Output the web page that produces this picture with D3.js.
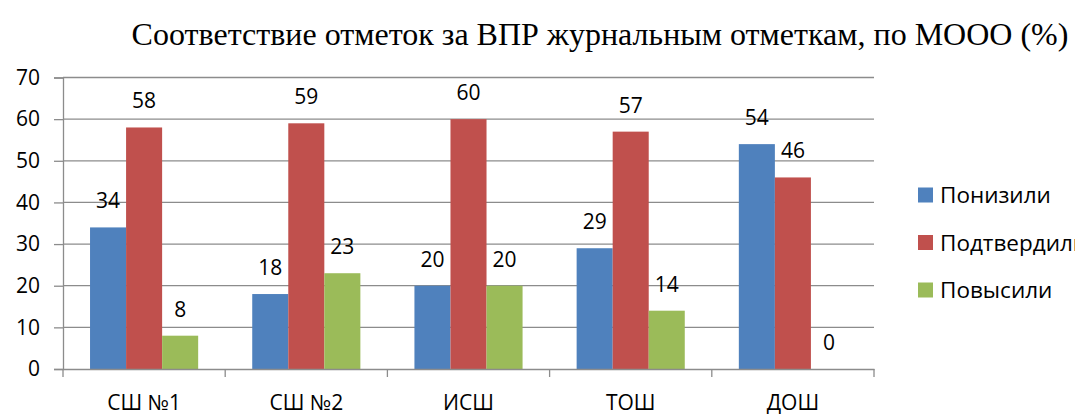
<!DOCTYPE html>
<html>
<head>
    <meta charset="utf-8">
    <title>Соответствие отметок</title>
    <script src="https://d3js.org/d3.v7.min.js"></script>
    <style>
        body { margin: 0; background: #fff; overflow: hidden; }
    </style>
</head>
<body>
<script>
// Chart data
const categories = ['СШ №1', 'СШ №2', 'ИСШ', 'ТОШ', 'ДОШ'];
const seriesNames = ['Понизили', 'Подтвердили', 'Повысили'];
const lowered = [34, 18, 20, 29, 54];
const confirmed = [58, 59, 60, 57, 46];
const raised = [8, 23, 20, 14, 0];
const yTicks = [0, 10, 20, 30, 40, 50, 60, 70];
const colors = ['#4F81BD', '#C0504D', '#9BBB59'];
const title = 'Соответствие отметок за ВПР журнальным отметкам, по МООО (%)';

const values = [lowered, confirmed, raised];

const W = 1075, H = 415;
const plot = { left: 63, right: 874, top: 77.5, bottom: 369 };
const sans = "'Open Sans', sans-serif";

const svg = d3.select('body')
    .append('svg')
    .attr('width', W)
    .attr('height', H)
    .style('font-family', sans);

const x = d3.scaleBand()
    .domain(categories)
    .range([plot.left, plot.right])
    .padding(0);

const xInner = d3.scaleBand()
    .domain(seriesNames)
    .range([x.bandwidth() / 6, x.bandwidth() * 5 / 6]);

const y = d3.scaleLinear()
    .domain([0, 70])
    .range([plot.bottom, plot.top]);

// Gridlines
svg.append('g')
    .selectAll('line')
    .data(yTicks.filter(d => d > 0))
    .enter()
    .append('line')
    .attr('x1', plot.left)
    .attr('x2', plot.right)
    .attr('y1', d => y(d))
    .attr('y2', d => y(d))
    .attr('stroke', '#8c8c8c')
    .attr('stroke-width', 1.3);

// Bars
const groups = svg.append('g')
    .selectAll('g')
    .data(categories)
    .enter()
    .append('g')
    .attr('transform', d => `translate(${x(d)},0)`);

groups.each(function (cat, ci) {
    const g = d3.select(this);
    seriesNames.forEach((s, si) => {
        const v = values[si][ci];
        g.append('rect')
            .attr('x', xInner(s))
            .attr('y', y(v))
            .attr('width', xInner.bandwidth())
            .attr('height', y(0) - y(v))
            .attr('fill', colors[si]);
        g.append('text')
            .attr('x', xInner(s) + xInner.bandwidth() / 2)
            .attr('y', y(v) - 19)
            .attr('text-anchor', 'middle')
            .attr('font-size', 21)
            .attr('fill', '#000')
            .text(v);
    });
});

// Y axis
const yAxis = svg.append('g')
    .attr('transform', `translate(${plot.left},0)`)
    .call(d3.axisLeft(y).tickValues(yTicks).tickSize(9).tickPadding(14).tickFormat(d3.format('d')));
yAxis.select('.domain').attr('stroke', '#8c8c8c').attr('stroke-width', 1.3);
yAxis.selectAll('.tick line').attr('stroke', '#8c8c8c').attr('stroke-width', 1.3);
yAxis.selectAll('.tick text')
    .attr('font-size', 21)
    .attr('font-family', sans)
    .attr('fill', '#000');

// X axis
const xAxis = svg.append('g')
    .attr('transform', `translate(0,${plot.bottom})`)
    .call(d3.axisBottom(x).tickSize(0).tickSizeOuter(0).tickPadding(26));
xAxis.select('.domain').attr('stroke', '#8c8c8c').attr('stroke-width', 1.3);
xAxis.selectAll('.tick text')
    .attr('font-size', 21)
    .attr('font-family', sans)
    .attr('fill', '#000');

// Category boundary ticks
svg.append('g')
    .selectAll('line')
    .data(categories.concat(['end']))
    .enter()
    .append('line')
    .attr('x1', (d, i) => plot.left + i * x.bandwidth())
    .attr('x2', (d, i) => plot.left + i * x.bandwidth())
    .attr('y1', plot.bottom)
    .attr('y2', plot.bottom + 8)
    .attr('stroke', '#8c8c8c')
    .attr('stroke-width', 1.3);

// Title
svg.append('text')
    .attr('x', 600)
    .attr('y', 45)
    .attr('text-anchor', 'middle')
    .style('font-family', "'Liberation Serif', 'Times New Roman', serif")
    .attr('font-size', 32)
    .attr('fill', '#000')
    .text(title);

// Legend
const legend = svg.append('g')
    .attr('transform', 'translate(918,0)');
seriesNames.forEach((s, i) => {
    const cy = 195 + i * 47.5;
    legend.append('rect')
        .attr('x', 0)
        .attr('y', cy - 7.5)
        .attr('width', 15)
        .attr('height', 15)
        .attr('fill', colors[i]);
    legend.append('text')
        .attr('x', 22)
        .attr('y', cy + 8)
        .attr('font-size', 22.5)
        .attr('fill', '#000')
        .text(s);
});
</script>
</body>
</html>
